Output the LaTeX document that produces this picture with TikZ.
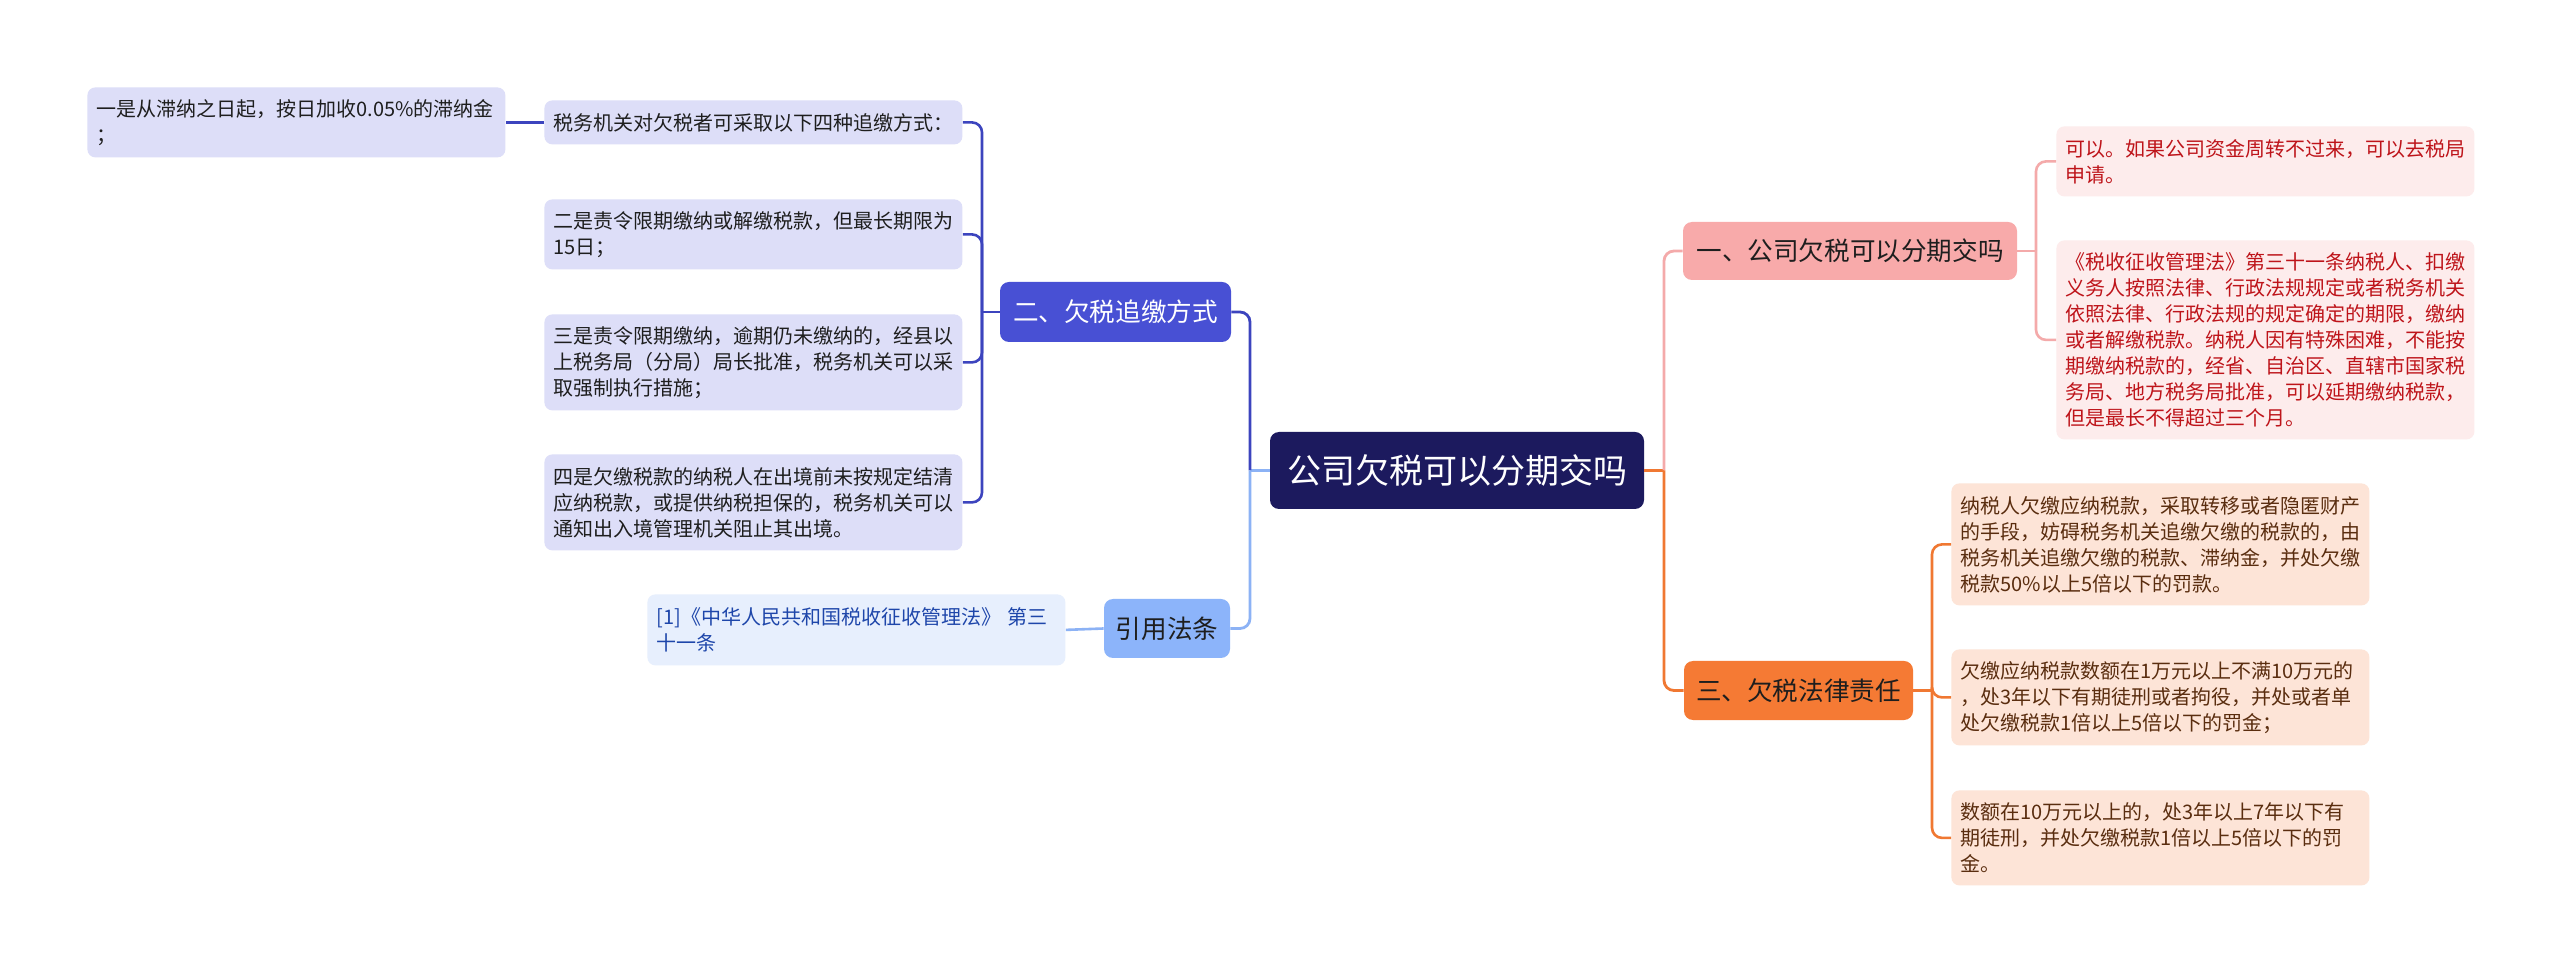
\documentclass[tikz,border=0pt]{standalone}
\usepackage{fontspec}
\setmainfont{Noto Sans CJK SC}
\definecolor{cnavy}{HTML}{1C1A5E}
\definecolor{cblue}{HTML}{4850D4}
\definecolor{cbline}{HTML}{3C44BE}
\definecolor{cbleaf}{HTML}{DDDEF8}
\definecolor{cltblue}{HTML}{8CB4FA}
\definecolor{cltline}{HTML}{8CB2F5}
\definecolor{ccite}{HTML}{E7EFFD}
\definecolor{ccitetext}{HTML}{1E46AA}
\definecolor{cpink}{HTML}{F8AAAA}
\definecolor{cpline}{HTML}{F4AAAA}
\definecolor{cpleaf}{HTML}{FDECEC}
\definecolor{cptext}{HTML}{BE141A}
\definecolor{corange}{HTML}{F57A34}
\definecolor{coline}{HTML}{F07832}
\definecolor{coleaf}{HTML}{FDE4D7}
\definecolor{cotext}{HTML}{5A2D0F}
\definecolor{cdark}{HTML}{1E1E1E}
\begin{document}
\begin{tikzpicture}[x=0.5pt,y=-0.5pt,
  leafbox/.style={rounded corners=4pt, inner xsep=4.5pt, inner ysep=0pt, text width=200pt,
    align=left, anchor=north west, font=\fontsize{10}{13}\selectfont},
  branchbox/.style={rounded corners=4.5pt, inner sep=0pt, anchor=center, align=center,
    font=\fontsize{12.8}{15}\selectfont},
  mainline/.style={line width=1.4pt, rounded corners=5pt},
  leafline/.style={line width=1.3pt, rounded corners=5pt}]
\fill[white] (0,0) rectangle (2560,972);
\useasboundingbox (0,0) rectangle (2560,972);

% central
\node[rounded corners=4.5pt, fill=cnavy, text=white, inner sep=0pt, minimum width=187pt,
  minimum height=38.5pt, font=\fontsize{17}{20}\selectfont] (C) at (1457,470.5) {公司欠税可以分期交吗};

% branches
\node[branchbox, fill=cblue, text=white, minimum width=115.5pt, minimum height=30pt] (B2) at (1115.5,312) {二、欠税追缴方式};
\node[branchbox, fill=cltblue, text=cdark, minimum width=63pt, minimum height=29.5pt] (B4) at (1167,628.5) {引用法条};
\node[branchbox, fill=cpink, text=cdark, minimum width=167pt, minimum height=29pt] (B1) at (1850,251) {一、公司欠税可以分期交吗};
\node[branchbox, fill=corange, text=cdark, minimum width=114.5pt, minimum height=29.5pt] (B3) at (1798.5,690.5) {三、欠税法律责任};

% left leaves
\node[leafbox, fill=cbleaf, text=cdark, minimum height=35pt] (L0) at (87,87) {一是从滞纳之日起，按日加收0.05\%的滞纳金\\；};
\node[leafbox, fill=cbleaf, text=cdark, minimum height=22pt] (L1) at (544,100) {税务机关对欠税者可采取以下四种追缴方式：};
\node[leafbox, fill=cbleaf, text=cdark, minimum height=35pt] (L2) at (544,199) {二是责令限期缴纳或解缴税款，但最长期限为\\15日；};
\node[leafbox, fill=cbleaf, text=cdark, minimum height=48pt] (L3) at (544,314) {三是责令限期缴纳，逾期仍未缴纳的，经县以\\上税务局（分局）局长批准，税务机关可以采\\取强制执行措施；};
\node[leafbox, fill=cbleaf, text=cdark, minimum height=48pt] (L4) at (544,454) {四是欠缴税款的纳税人在出境前未按规定结清\\应纳税款，或提供纳税担保的，税务机关可以\\通知出入境管理机关阻止其出境。};
\node[leafbox, fill=ccite, text=ccitetext, minimum height=35.5pt] (CT) at (647,594) {[1]《中华人民共和国税收征收管理法》 第三\\十一条};

% right leaves
\node[leafbox, fill=cpleaf, text=cptext, minimum height=35pt] (R1) at (2056,126) {可以。如果公司资金周转不过来，可以去税局\\申请。};
\node[leafbox, fill=cpleaf, text=cptext, minimum height=99.5pt] (R2) at (2056,240) {《税收征收管理法》第三十一条纳税人、扣缴\\义务人按照法律、行政法规规定或者税务机关\\依照法律、行政法规的规定确定的期限，缴纳\\或者解缴税款。纳税人因有特殊困难，不能按\\期缴纳税款的，经省、自治区、直辖市国家税\\务局、地方税务局批准，可以延期缴纳税款，\\但是最长不得超过三个月。};
\node[leafbox, fill=coleaf, text=cotext, minimum height=61pt] (O1) at (1951,483) {纳税人欠缴应纳税款，采取转移或者隐匿财产\\的手段，妨碍税务机关追缴欠缴的税款的，由\\税务机关追缴欠缴的税款、滞纳金，并处欠缴\\税款50\%以上5倍以下的罚款。};
\node[leafbox, fill=coleaf, text=cotext, minimum height=48pt] (O2) at (1951,649) {欠缴应纳税款数额在1万元以上不满10万元的\\，处3年以下有期徒刑或者拘役，并处或者单\\处欠缴税款1倍以上5倍以下的罚金；};
\node[leafbox, fill=coleaf, text=cotext, minimum height=47.5pt] (O3) at (1951,790) {数额在10万元以上的，处3年以上7年以下有\\期徒刑，并处欠缴税款1倍以上5倍以下的罚\\金。};

% junction coordinates
\coordinate (jL) at (C.west -| 1250,0);
\coordinate (jR) at (C.east -| 1664,0);
\coordinate (j2) at (B2.west -| 982,0);
\coordinate (j1) at (B1.east -| 2036,0);
\coordinate (j3) at (B3.east -| 1932,0);

% main connectors
\draw[mainline, cltline] (C.west) -- (jL);
\draw[mainline, cbline] (jL) |- (B2.east);
\draw[mainline, cltline] (jL) |- (B4.east);
\draw[mainline, coline] (C.east) -- (jR);
\draw[mainline, cpline] (jR) |- (B1.west);
\draw[mainline, coline] (jR) |- (B3.west);

% leaf connectors
\draw[leafline, cbline] (B2.west) -- (j2);
\foreach \n in {L1,L2,L3,L4}
  \draw[leafline, cbline] (j2) |- (\n.east);
\draw[leafline, cbline] (L1.west) -- (L0.east);
\draw[leafline, cltline] (B4.west) -- (CT.east);
\draw[leafline, cpline] (B1.east) -- (j1);
\foreach \n in {R1,R2}
  \draw[leafline, cpline] (j1) |- (\n.west);
\draw[leafline, coline] (B3.east) -- (j3);
\foreach \n in {O1,O2,O3}
  \draw[leafline, coline] (j3) |- (\n.west);
\end{tikzpicture}
\end{document}
